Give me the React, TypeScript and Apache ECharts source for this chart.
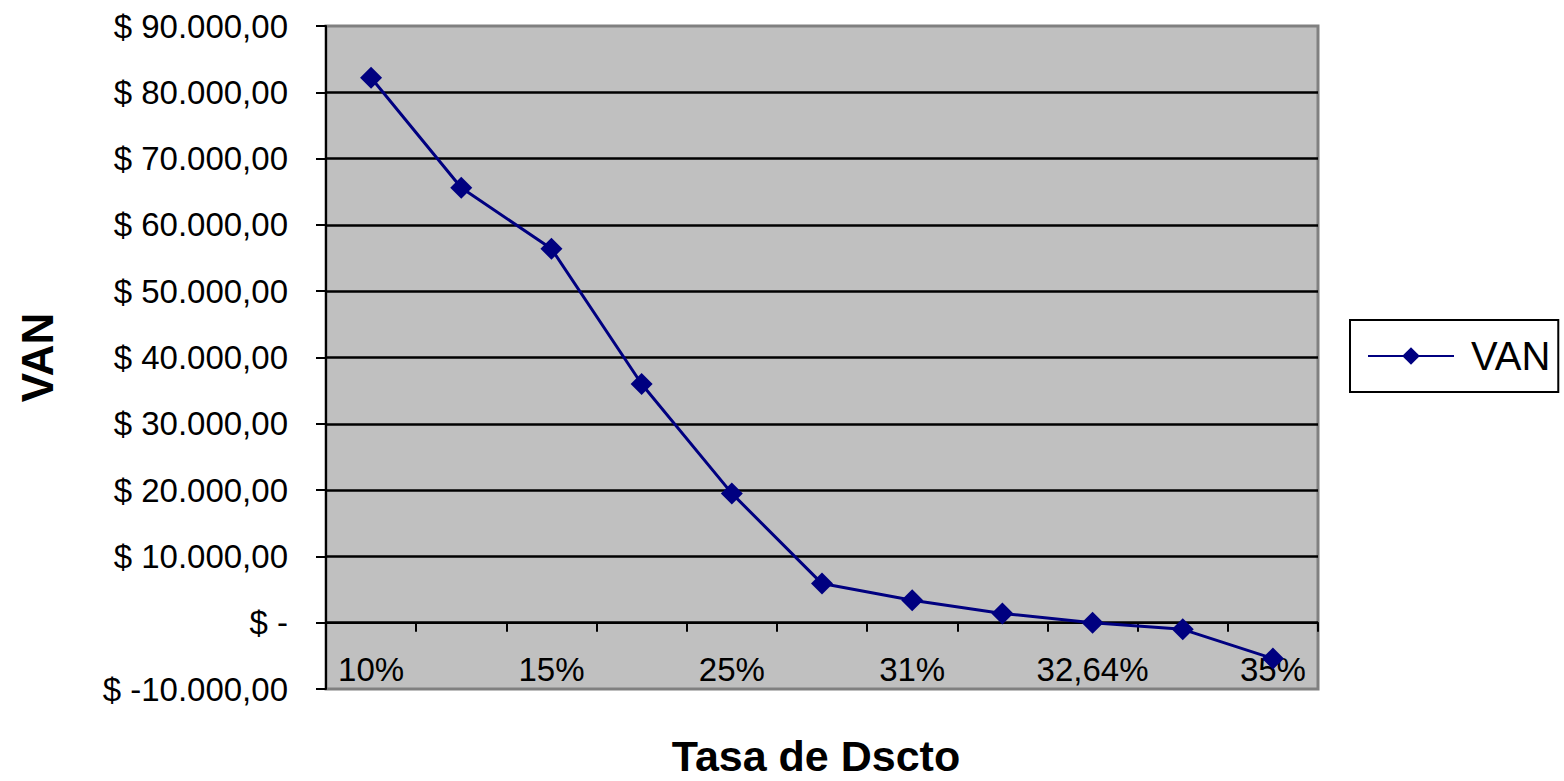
import React, { useEffect, useRef } from "react";
import * as echarts from "echarts";

const categories = ["10%", "12%", "15%", "20%", "25%", "30%", "31%", "32%", "32,64%", "33%", "35%"];
const vanValues = [82200, 65600, 56400, 36000, 19500, 5900, 3400, 1400, 0, -1000, -5400];
const yMin = -10000;
const yMax = 90000;
const yStep = 10000;
const xTitle = "Tasa de Dscto";

function fmtMoney(v: number): string {
  if (v === 0) return "$ -";
  const neg = v < 0;
  const s = Math.abs(v).toString().replace(/\B(?=(\d{3})+(?!\d))/g, ".");
  return "$ " + (neg ? "-" : "") + s + ",00";
}

export default function App() {
  const ref = useRef<HTMLDivElement>(null);
  useEffect(() => {
    document.body.style.margin = "0";
    const chart = echarts.init(ref.current!, null, { renderer: "svg" });
    const font = "'Liberation Sans', Arial, sans-serif";
    chart.setOption({
      animation: false,
      textStyle: { fontFamily: font, color: "#000" },
      grid: {
        left: 326,
        top: 26,
        right: 246,
        bottom: 92,
        containLabel: false,
        outerBoundsMode: "none",
        show: true,
        backgroundColor: "#C0C0C0",
        borderColor: "#808080",
        borderWidth: 3,
      },
      graphic: [
        {
          type: "text",
          x: 816,
          y: 756,
          style: {
            text: xTitle,
            fontFamily: font,
            fontSize: 43,
            lineHeight: 48,
            fontWeight: "bold",
            fill: "#000",
            textAlign: "center",
            textVerticalAlign: "middle",
          },
        },
      ],
      legend: {
        show: true,
        orient: "vertical",
        left: 1350,
        top: 320,
        backgroundColor: "#fff",
        borderColor: "#000",
        borderWidth: 2,
        borderRadius: 0,
        padding: [14, 8, 14, 17],
        itemWidth: 86,
        itemHeight: 22,
        textStyle: { fontFamily: font, fontSize: 40, color: "#000", lineHeight: 44, padding: [0, 0, 0, 12] },
        data: ["VAN"],
      },
      xAxis: {
        type: "category",
        data: categories,
        boundaryGap: true,
        axisLine: { onZero: true, lineStyle: { color: "#000", width: 2 } },
        axisTick: { show: true, inside: false, length: 9, alignWithLabel: false, interval: 0, lineStyle: { color: "#000", width: 2 } },
        axisLabel: { interval: 1, margin: -36, fontSize: 33, fontFamily: font, color: "#000" },
        splitLine: { show: false },
      },
      yAxis: {
        type: "value",
        min: yMin,
        max: yMax,
        interval: yStep,
        name: "VAN",
        nameLocation: "middle",
        nameRotate: 90,
        nameGap: 267,
        nameTextStyle: { fontFamily: font, fontSize: 44, fontWeight: "bold", color: "#000" },
        axisLine: { show: true, lineStyle: { color: "#000", width: 2 } },
        axisTick: { show: true, inside: false, length: 10, lineStyle: { color: "#000", width: 2 } },
        axisLabel: { margin: 38, fontSize: 33, fontFamily: font, color: "#000", formatter: (v: number) => fmtMoney(v) },
        splitLine: { show: true, showMinLine: false, showMaxLine: false, lineStyle: { color: "#000", width: 2.5 } },
      },
      series: [
        {
          name: "VAN",
          type: "line",
          data: vanValues,
          symbol: "diamond",
          symbolSize: 22,
          showAllSymbol: true,
          lineStyle: { color: "#000080", width: 3 },
          itemStyle: { color: "#000080" },
        },
      ],
    });
    return () => chart.dispose();
  }, []);
  return <div ref={ref} style={{ width: 1564, height: 781 }} />;
}
